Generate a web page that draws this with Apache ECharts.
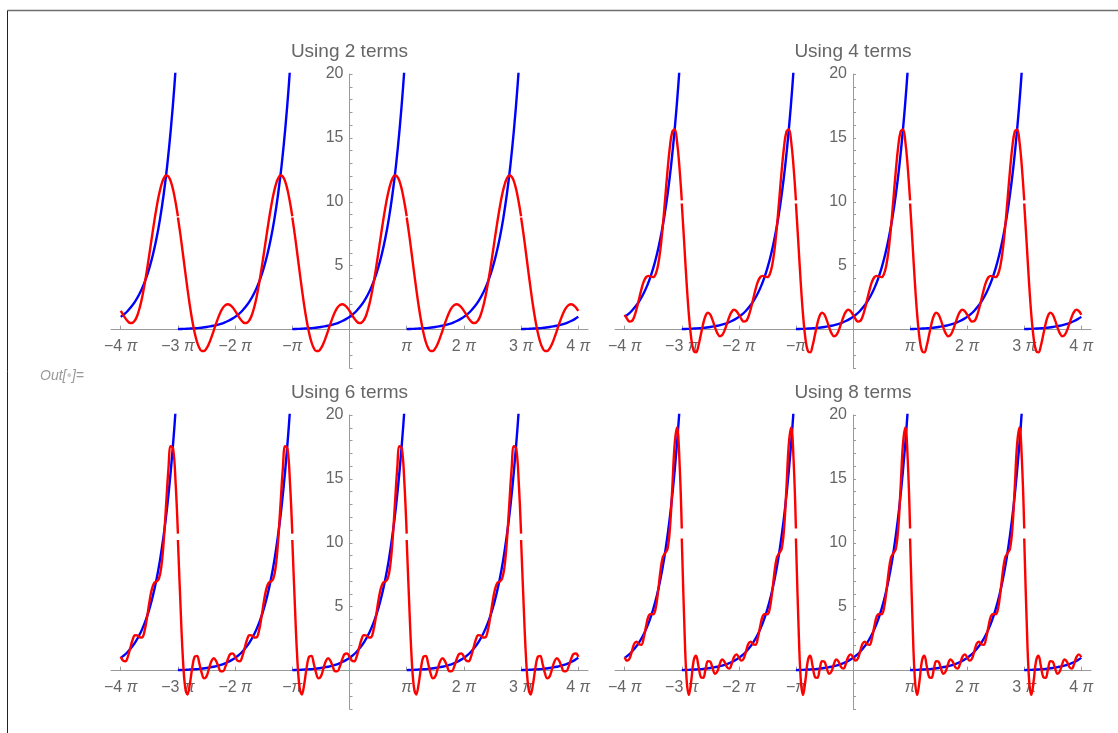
<!DOCTYPE html>
<html><head><meta charset="utf-8">
<script src="https://cdn.jsdelivr.net/npm/echarts@6/dist/echarts.min.js"></script>
<style>html,body{margin:0;padding:0;background:#fff;}#c{width:1118px;height:733px;}</style>
</head><body><div id="c"></div>
<script>
// ---------- data ----------
const panelTitles = ['Using 2 terms', 'Using 4 terms', 'Using 6 terms', 'Using 8 terms'];
const xTickValues = [-4, -3, -2, -1, 1, 2, 3, 4];           // in units of pi
const xTickLabels = ['−4 π', '−3 π', '−2 π', '−π', 'π', '2 π', '3 π', '4 π'];
const yTickValues = [5, 10, 15, 20];
const periodCenters = [-4, -2, 0, 2, 4];                    // centres of the repeated periods (units of pi)

// one period of the blue function, positions in units of pi relative to the period centre
const blueT = [-1, -0.9375, -0.875, -0.8125, -0.75, -0.6875, -0.625, -0.5625, -0.5, -0.4375, -0.375, -0.3125,
  -0.25, -0.1875, -0.125, -0.0625, 0, 0.0625, 0.125, 0.1875, 0.25, 0.3125, 0.375, 0.4375, 0.5, 0.5625, 0.625,
  0.6875, 0.75, 0.8125, 0.875, 0.9375, 1];
const blueY = [0.043, 0.053, 0.064, 0.078, 0.095, 0.115, 0.140, 0.171, 0.208, 0.253, 0.308, 0.375, 0.456, 0.555,
  0.675, 0.822, 1, 1.217, 1.481, 1.803, 2.193, 2.669, 3.248, 3.953, 4.811, 5.854, 7.125, 8.670, 10.551, 12.840,
  15.626, 19.016, 23.141];

// one period of each red approximation
const redT = [-1, -0.9583, -0.9167, -0.875, -0.8333, -0.7917, -0.75, -0.7083, -0.6667, -0.625, -0.5833, -0.5417,
  -0.5, -0.4583, -0.4167, -0.375, -0.3333, -0.2917, -0.25, -0.2083, -0.1667, -0.125, -0.0833, -0.0417, 0,
  0.0417, 0.0833, 0.125, 0.1667, 0.2083, 0.25, 0.2917, 0.3333, 0.375, 0.4167, 0.4583, 0.5, 0.5417, 0.5833,
  0.625, 0.6667, 0.7083, 0.75, 0.7917, 0.8333, 0.875, 0.9167, 0.9583, 1];
const red2 = [8.77, 7.496, 6.077, 4.625, 3.209, 1.893, 0.735, -0.224, -0.952, -1.434, -1.665, -1.665, -1.470,
  -1.107, -0.629, -0.088, 0.467, 0.982, 1.419, 1.746, 1.937, 1.992, 1.915, 1.731, 1.470, 1.173, 0.879, 0.647,
  0.518, 0.540, 0.735, 1.129, 1.739, 2.544, 3.533, 4.658, 5.882, 7.143, 8.378, 9.521, 10.510, 11.289, 11.815,
  12.054, 11.980, 11.602, 10.922, 9.981, 8.87];
const red4 = [9.87, 6.841, 3.753, 1.140, -0.713, -1.665, -1.776, -1.261, -0.404, 0.463, 1.092, 1.327, 1.169,
  0.724, 0.165, -0.294, -0.515, -0.423, -0.055, 0.482, 1.015, 1.404, 1.555, 1.445, 1.168, 0.849, 0.636, 0.669,
  1.007, 1.621, 2.378, 3.143, 3.757, 4.110, 4.209, 4.143, 4.110, 4.334, 5.018, 6.264, 8.058, 10.216, 12.422,
  14.296, 15.469, 15.653, 14.715, 12.745, 10.11];
const red6 = [10.22, 5.503, 1.268, -1.254, -1.864, -1.059, 0.217, 1.084, 1.158, 0.562, -0.195, -0.603, -0.445,
  0.132, 0.717, 0.967, 0.768, 0.312, -0.048, -0.037, 0.357, 0.908, 1.305, 1.342, 1.084, 0.783, 0.739, 1.099,
  1.761, 2.419, 2.768, 2.761, 2.592, 2.606, 3.114, 4.110, 5.327, 6.330, 6.849, 6.966, 7.172, 8.076, 10.032,
  12.852, 15.730, 17.553, 17.348, 14.811, 10.72];
const red8 = [10.34, 4.047, -0.599, -1.897, -0.750, 0.779, 1.162, 0.368, -0.496, -0.559, 0.121, 0.746, 0.698,
  0.151, -0.246, -0.044, 0.533, 0.868, 0.691, 0.272, 0.162, 0.537, 1.077, 1.276, 1.050, 0.783, 0.930, 1.515,
  2.103, 2.257, 2.051, 2.022, 2.570, 3.500, 4.253, 4.437, 4.411, 4.856, 6.135, 7.749, 8.863, 9.198, 9.521,
  11.087, 14.249, 17.697, 19.031, 16.553, 11.12];
const redSets = [red2, red4, red6, red8];

// ---------- build ----------
function repeatPeriods(tArr, yArr) {
  const out = [];
  periodCenters.forEach(c => {
    const seg = [];
    tArr.forEach((t, i) => {
      const x = c + t;
      if (x >= -4 - 1e-9 && x <= 4 + 1e-9) seg.push([x, yArr[i]]);
    });
    if (seg.length) {
      if (out.length) out.push([seg[0][0], null]);
      seg.forEach(p => out.push(p));
    }
  });
  return out;
}
const blueData = repeatPeriods(blueT, blueY);

const FONT = "'Liberation Sans', Arial, sans-serif";
const X_MIN = -4.17, X_MAX = 4.17, Y_MIN = -3, Y_MAX = 20;
const gridPos = [
  {left: 111, top: 74, width: 477, height: 294},
  {left: 615, top: 74, width: 476, height: 294},
  {left: 111, top: 415, width: 477, height: 294},
  {left: 615, top: 415, width: 476, height: 294}
];
const axisGray = '#9a9a9a';
const textGray = '#666';

function xLabel(v) {
  const idx = xTickValues.indexOf(Math.round(v));
  if (idx < 0) return '';
  const s = xTickLabels[idx];
  const parts = s.split('π');
  return (parts[0] ? '{n|' + parts[0] + '}' : '') + '{p|π}';
}

const grids = [], xAxes = [], yAxes = [], series = [], graphics = [];
gridPos.forEach((g, i) => {
  grids.push(Object.assign({containLabel: false}, g));
  // move axes so they cross at the origin (x = 0, y = 0)
  const yOffset = -(g.width * (0 - X_MIN) / (X_MAX - X_MIN));
  const xOffset = -(g.height * (0 - Y_MIN) / (Y_MAX - Y_MIN));
  xAxes.push({
    type: 'value', gridIndex: i, min: X_MIN, max: X_MAX, position: 'bottom', offset: xOffset,
    axisLine: {onZero: false, lineStyle: {color: axisGray, width: 1}},
    axisTick: {show: true, inside: true, length: 4, customValues: xTickValues, lineStyle: {color: axisGray}},
    axisLabel: {
      customValues: xTickValues, formatter: xLabel, margin: 9,
      rich: {
        n: {color: textGray, fontSize: 16, fontFamily: FONT},
        p: {color: textGray, fontSize: 16, fontFamily: FONT, fontStyle: 'italic'}
      }
    },
    splitLine: {show: false}
  });
  yAxes.push({
    type: 'value', gridIndex: i, min: Y_MIN, max: Y_MAX, interval: 1, position: 'left', offset: yOffset,
    axisLine: {onZero: false, lineStyle: {color: axisGray, width: 1}},
    axisTick: {show: true, inside: true, length: 3, lineStyle: {color: axisGray}},
    axisLabel: {customValues: yTickValues, color: textGray, fontSize: 16, fontFamily: FONT, margin: 6},
    splitLine: {show: false}
  });
  series.push({
    type: 'line', xAxisIndex: i, yAxisIndex: i, data: blueData, showSymbol: false, smooth: 0.4,
    lineStyle: {color: '#0000ff', width: 2.4}, silent: true, z: 2, clip: true
  });
  series.push({
    type: 'line', xAxisIndex: i, yAxisIndex: i, data: repeatPeriods(redT, redSets[i]), showSymbol: false,
    smooth: 0.4, lineStyle: {color: '#ff0000', width: 2.4}, silent: true, z: 3, clip: true
  });
  graphics.push({
    type: 'text', x: g.left + g.width / 2, y: g.top - 22,
    style: {text: panelTitles[i], fill: textGray, font: '19px ' + FONT, textAlign: 'center', textVerticalAlign: 'middle'}
  });
});

graphics.push({type: 'line', shape: {x1: 7.5, y1: 10.5, x2: 1118, y2: 10.5}, style: {stroke: '#6e6e6e', lineWidth: 1.5}});
graphics.push({type: 'line', shape: {x1: 7.5, y1: 10.5, x2: 7.5, y2: 733}, style: {stroke: '#222', lineWidth: 1}});
graphics.push({
  type: 'text', x: 40, y: 376,
  style: {
    text: '{a|Out[}{d|●}{a|]=}', textVerticalAlign: 'middle',
    rich: {
      a: {fill: '#999', fontSize: 14, fontStyle: 'italic', fontFamily: FONT},
      d: {fill: '#ccc', fontSize: 9, fontFamily: FONT}
    }
  }
});

const chart = echarts.init(document.getElementById('c'), null, {renderer: 'canvas'});
chart.setOption({
  animation: false,
  backgroundColor: '#fff',
  grid: grids, xAxis: xAxes, yAxis: yAxes, series: series, graphic: graphics
});
</script></body></html>
